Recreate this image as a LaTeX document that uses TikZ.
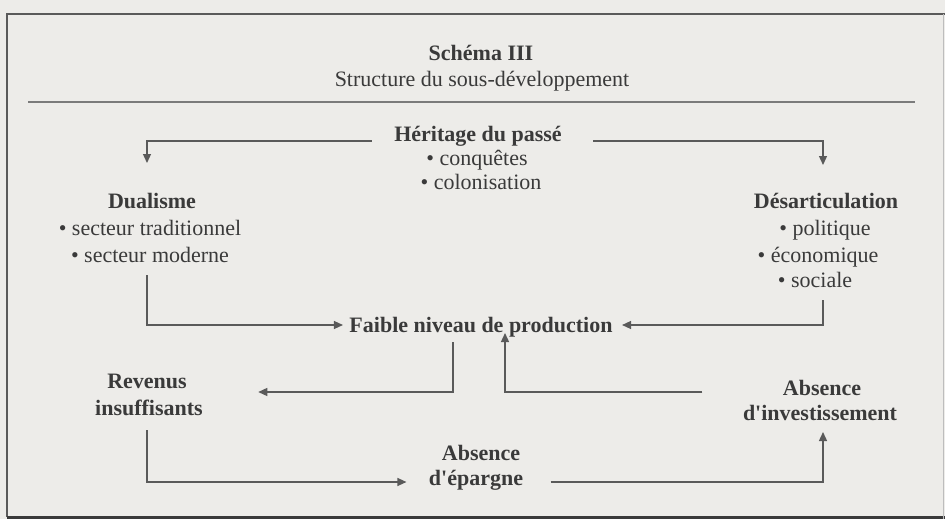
\documentclass[tikz,border=0pt]{standalone}
\usepackage{fontspec}
\setmainfont{Liberation Serif}
\usetikzlibrary{arrows.meta}
\definecolor{bg}{HTML}{EDECE9}
\definecolor{ink}{HTML}{3A3A3A}
\definecolor{ln}{HTML}{5A5A5A}
\begin{document}
\begin{tikzpicture}[x=1pt,y=-1pt,
  txt/.style={anchor=base,text=ink,font=\fontsize{22}{26}\selectfont,inner sep=3.33pt},
  hd/.style={txt,font=\fontsize{22}{26}\selectfont\bfseries},
  arr/.style={draw=ln,line width=1.3pt,-{Triangle[length=9pt,width=8pt]}},
  frame/.style={draw=ln,line width=1.3pt},
]
\useasboundingbox (0,0) rectangle (945,519);
\fill[bg] (0,0) rectangle (945,519);
% frame and rule
\draw[frame] (945,14) -- (7,14) -- (7,517);
\draw[draw=ink,line width=3pt] (7,517.5) -- (945,517.5);
\draw[draw=ln!40,line width=0.8pt] (943,14) -- (943,519);
\draw[draw=ln!80,line width=1.2pt] (28,102) -- (915,102);
% texts
\node[hd] (t1) at (481,60) {Schéma III};
\node[txt] (t2) at (482,87) {Structure du sous-développement};
\node[hd] (herT) at (478,141) {Héritage du passé};
\node[txt] (her1) at (477,165) {• conquêtes};
\node[txt] (her2) at (481,189) {• colonisation};
\node[hd] (dual1) at (152,208) {Dualisme};
\node[txt] (dual2) at (150,235) {• secteur traditionnel};
\node[txt] (dual3) at (150,262) {• secteur moderne};
\node[hd] (des1) at (826,208) {Désarticulation};
\node[txt] (des2) at (825,235) {• politique};
\node[txt] (des3) at (818,262) {• économique};
\node[txt] (des4) at (815,287) {• sociale};
\node[hd] (fai) at (481,332) {Faible niveau de production};
\node[hd] (rev1) at (147,388) {Revenus};
\node[hd] (rev2) at (149,415) {insuffisants};
\node[hd] (ab1) at (481,460) {Absence};
\node[hd] (ab2) at (476,485) {d\textquotesingle épargne};
\node[hd] (inv1) at (822,395) {Absence};
\node[hd] (inv2) at (820,420) {d\textquotesingle investissement};
% connectors
\draw[arr] ([xshift=-19pt]herT.base west) -| ([xshift=-5pt,yshift=45pt]dual1.base);
\draw[arr] ([xshift=28pt]herT.base east) -| ([xshift=-3pt,yshift=43pt]des1.base);
\draw[arr] ([xshift=-3pt,yshift=-13pt]dual3.base) |- ([xshift=-3pt,yshift=7pt]fai.base west);
\draw[arr] ([xshift=8pt,yshift=-13pt]des4.base) |- ([xshift=6pt,yshift=7pt]fai.base east);
\draw[arr] ([xshift=-28pt,yshift=-10pt]fai.base) |- ([xshift=68pt,yshift=-4pt]rev1.base east);
\draw[arr] ([xshift=-2pt,yshift=-15pt]rev2.base) |- ([xshift=-19pt,yshift=3pt]ab2.base west);
\draw[arr] ([xshift=24pt,yshift=3pt]ab2.base east) -| ([xshift=3pt,yshift=-12pt]inv2.base);
\draw[arr] ([xshift=-77pt,yshift=3pt]inv1.base west) -| ([xshift=24pt,yshift=-1pt]fai.base);
\end{tikzpicture}
\end{document}
